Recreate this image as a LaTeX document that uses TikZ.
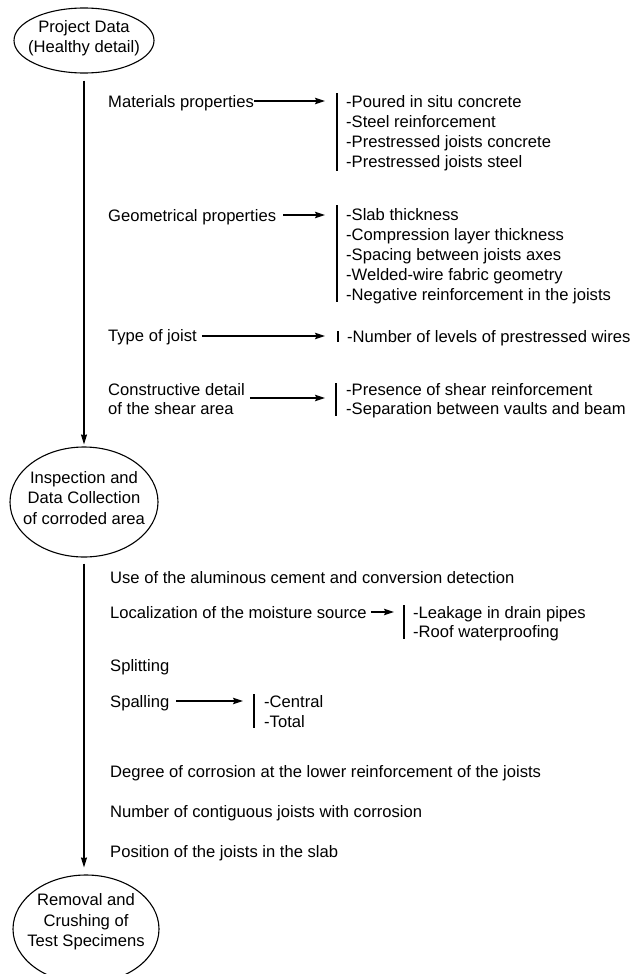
\documentclass[tikz,border=0pt]{standalone}
\usepackage{fontspec}
\setmainfont{Liberation Sans}
\usetikzlibrary{shapes.geometric,arrows.meta}
\begin{document}
\begin{tikzpicture}[x=1pt,y=-1pt,
  every node/.style={font=\fontsize{16.6}{20}\selectfont},
  txt/.style={inner sep=0pt, anchor=base west},
  oval/.style={draw, ellipse, line width=1.1pt, inner sep=0pt},
  ovaltext/.style={inner sep=0pt, align=center, font=\fontsize{16.6}{20.5}\selectfont},
  flow/.style={line width=1.3pt, -{Stealth[length=10pt,width=6pt,inset=1pt]}},
  pointer/.style={line width=1.1pt, -{Stealth[length=10pt,width=6.5pt,inset=1.5pt]}},
  bar/.style={line width=1.3pt}]
\useasboundingbox (0,0) rectangle (632,974);

% ---- stage ellipses
\node[oval, minimum width=140pt, minimum height=65pt] (e1) at (84,40.5) {};
\node[ovaltext] (e1t) at (84,38) {Project Data\\(Healthy detail)};
\node[oval, minimum width=148pt, minimum height=110pt] (e2) at (84,502) {};
\node[ovaltext] (e2t) at (84,498) {Inspection and\\Data Collection\\of corroded area};
\node[oval, minimum width=146pt, minimum height=108pt] (e3) at (86,929) {};
\node[ovaltext] (e3t) at (86,922) {Removal and\\Crushing of\\Test Specimens};

\draw[flow, shorten <=7pt, shorten >=2pt] (e1.south) -- (e1.south |- e2.north);
\draw[flow, shorten <=6pt, shorten >=7pt] (e2.south) -- (e2.south |- e3.north);

% ---- Project data items
\node[txt] (mat) at (108,107) {Materials properties};
\coordinate (matend) at (325,101);
\draw[pointer] (mat.east |- matend) -- (matend);
\draw[bar] (337,93) -- (337,171);
\node[txt] (m1) at (346,107) {-Poured in situ concrete};
\node[txt] (m2) at (346,127) {-Steel reinforcement};
\node[txt] (m3) at (346,147) {-Prestressed joists concrete};
\node[txt] (m4) at (346,167) {-Prestressed joists steel};

\node[txt] (geo) at (108,221) {Geometrical properties};
\coordinate (geoend) at (325,215);
\draw[pointer, shorten <=7pt] (geo.east |- geoend) -- (geoend);
\draw[bar] (337,205) -- (337,302);
\node[txt] (g1) at (346,220) {-Slab thickness};
\node[txt] (g2) at (346,240) {-Compression layer thickness};
\node[txt] (g3) at (346,260) {-Spacing between joists axes};
\node[txt] (g4) at (346,280) {-Welded-wire fabric geometry};
\node[txt] (g5) at (346,300) {-Negative reinforcement in the joists};

\node[txt] (typ) at (108,341) {Type of joist};
\coordinate (typend) at (325,336);
\draw[pointer, shorten <=5pt] (typ.east |- typend) -- (typend);
\draw[bar] (338,331) -- (338,342);
\node[txt] (t1) at (347,342) {-Number of levels of prestressed wires};

\node[txt] (con1) at (108,395) {Constructive detail};
\node[txt] (con2) at (108,414) {of the shear area};
\coordinate (conend) at (325,398);
\draw[pointer, shorten <=5pt] (con1.east |- conend) -- (conend);
\draw[bar] (336,383) -- (336,416);
\node[txt] (c1) at (346,395) {-Presence of shear reinforcement};
\node[txt] (c2) at (346,414) {-Separation between vaults and beam};

% ---- Inspection items
\node[txt] (use) at (110,583) {Use of the aluminous cement and conversion detection};

\node[txt] (loc) at (110,618) {Localization of the moisture source};
\coordinate (locend) at (394,612);
\draw[pointer, shorten <=4pt] (loc.east |- locend) -- (locend);
\draw[bar] (404,605) -- (404,639);
\node[txt] (l1) at (413,618) {-Leakage in drain pipes};
\node[txt] (l2) at (413,637) {-Roof waterproofing};

\node[txt] (spl) at (110,671) {Splitting};

\node[txt] (spa) at (110,707) {Spalling};
\coordinate (spaend) at (243,701);
\draw[pointer, shorten <=7pt] (spa.east |- spaend) -- (spaend);
\draw[bar] (254,694) -- (254,728);
\node[txt] (s1) at (264,707) {-Central};
\node[txt] (s2) at (264,727) {-Total};

\node[txt] (deg) at (110,777) {Degree of corrosion at the lower reinforcement of the joists};
\node[txt] (num) at (110,817) {Number of contiguous joists with corrosion};
\node[txt] (pos) at (110,857) {Position of the joists in the slab};
\end{tikzpicture}
\end{document}
